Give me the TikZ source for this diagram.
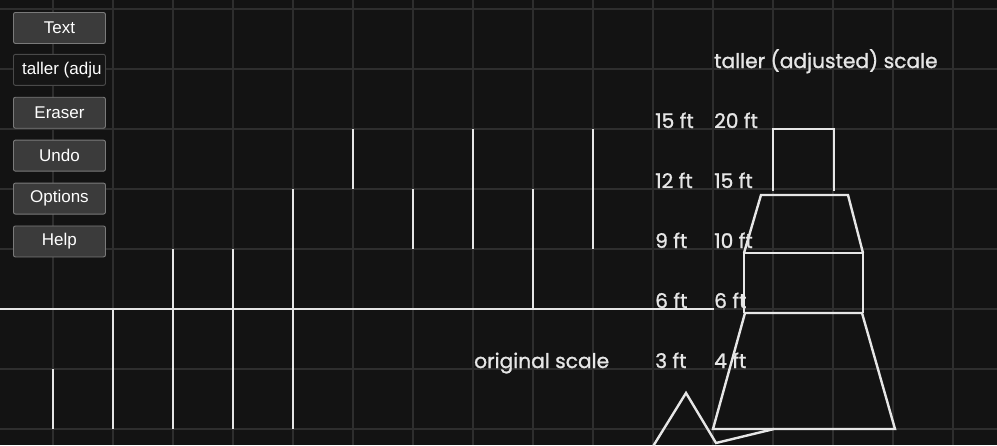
\documentclass[tikz,border=0pt]{standalone}
\usepackage{fontspec}
\setmainfont{Poppins}
\newfontfamily\labelfont{Poppins}[FakeBold=1.2]
\newfontfamily\uifont{Liberation Sans}
\usetikzlibrary{positioning}

\definecolor{canvasbg}{HTML}{131313}
\definecolor{gridgray}{HTML}{2E2E2E}
\definecolor{inkwhite}{HTML}{E6E6E6}
\definecolor{btnfill}{HTML}{3B3B3B}
\definecolor{btnedge}{HTML}{7A7A7A}
\definecolor{inputfill}{HTML}{161616}
\definecolor{inputedge}{HTML}{4A4A4A}

\begin{document}
\begin{tikzpicture}[
			x=1pt, y=-1pt,
			gridline/.style={draw=gridgray, line width=1.2pt},
			ink/.style={draw=inkwhite, line width=2.4pt, line join=miter},
			lbl/.style={anchor=base west, text=inkwhite, inner sep=0pt, font=\labelfont\fontsize{20.2}{20}\selectfont},
			btn/.style={draw=btnedge, fill=btnfill, rounded corners=2pt, line width=0.9pt,
				minimum width=92pt, minimum height=31pt, inner sep=0pt, text=white,
				font=\uifont\fontsize{17}{17}\selectfont},
			inputbox/.style={btn, draw=inputedge, fill=inputfill},
			node distance=11pt
			]
			
			% canvas
			\fill[canvasbg] (0,0) rectangle (997,445);
			\useasboundingbox (0,0) rectangle (997,445);
			\foreach \gx in {53,113,...,953} \draw[gridline] (\gx,0) -- (\gx,445);
			\foreach \gy in {9,69,...,429} \draw[gridline] (0,\gy) -- (997,\gy);
			
			% original scale strokes
			\draw[ink] (0,309) -- (714,309);
			\foreach \sx/\ya/\yb in {53/369/429, 113/309/429, 173/249/429, 233/249/429, 293/189/429,
				353/129/189, 413/189/249, 473/129/249, 533/189/309, 593/129/249}
				\draw[ink] (\sx,\ya) -- (\sx,\yb);
			
			% taller figure
			\draw[ink] (713,429) -- (745,313) -- (862,313) -- (895,429) -- cycle;
			\draw[ink] (744,313) -- (744,253) -- (863,253) -- (863,313);
			\draw[ink] (744,253) -- (761,195) -- (848,195) -- (863,253);
			\draw[ink] (773,191) -- (773,129) -- (834,129) -- (834,191);
			\draw[ink] (652,448) -- (686,393) -- (716,443) -- (774,429);
			
			% labels
			\node[lbl] (title) at (714,68) {taller (adjusted) scale};
			\node[lbl] (orig) at (474,368) {original scale};
			\foreach \ly/\la/\lb in {128/15/20, 188/12/15, 248/9/10, 308/6/6, 368/3/4} {
				\node[lbl] (old\la) at (655,\ly) {\la{} ft};
				\node[lbl] (new\lb) at (714,\ly) {\lb{} ft};
			}
			
			% toolbar
			\node[btn, anchor=north west] (btnText) at (13,12) {Text};
			\node[inputbox, below=10pt of btnText] (btnInput) {};
			\node[btn, below=of btnInput] (btnEraser) {Eraser};
			\node[btn, below=of btnEraser] (btnUndo) {Undo};
			\node[btn, below=of btnUndo] (btnOptions) {Options};
			\node[btn, below=of btnOptions] (btnHelp) {Help};
			\begin{scope}
				\clip (btnInput.south west) ++(1,-1) rectangle ([xshift=-4pt,yshift=1pt]btnInput.north east);
				\node[anchor=west, inner sep=0pt, text=white, font=\uifont\fontsize{17}{17}\selectfont]
					(inputText) at ([xshift=9pt]btnInput.west) {taller (adjusted) scale};
			\end{scope}
			
		\end{tikzpicture}
\end{document}
